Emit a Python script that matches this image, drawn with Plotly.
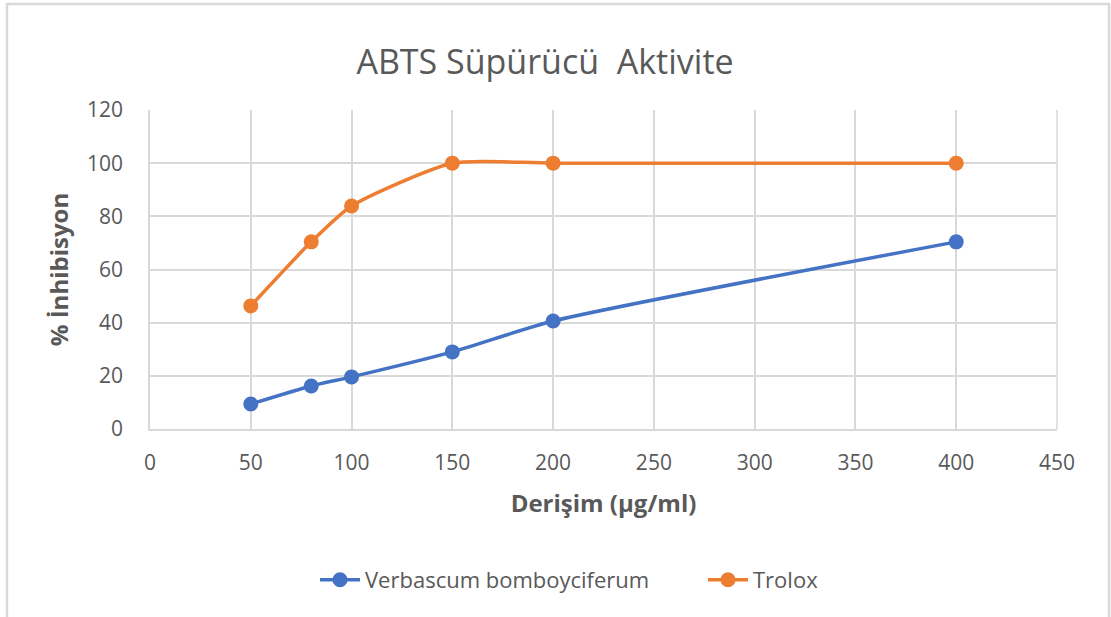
import plotly.graph_objects as go

conc = [50, 80, 100, 150, 200, 400]
verbascum = [9.4, 16.2, 19.6, 29.0, 40.6, 70.4]
trolox = [46.3, 70.4, 83.9, 100.0, 100.0, 100.0]
names = ["Verbascum bomboyciferum", "Trolox"]
x_ticks = [0, 50, 100, 150, 200, 250, 300, 350, 400, 450]
y_ticks = [0, 20, 40, 60, 80, 100, 120]

FONT = "Open Sans"
GRAY = "#595959"
GRID = "#d9d9d9"

fig = go.Figure()
fig.add_trace(go.Scatter(x=conc, y=verbascum, name=names[0], mode="lines+markers",
                         line=dict(color="#4472c4", width=3.5, shape="spline", smoothing=0.6),
                         marker=dict(size=15, color="#4472c4"), legend="legend"))
fig.add_trace(go.Scatter(x=conc, y=trolox, name=names[1], mode="lines+markers",
                         line=dict(color="#ed7d31", width=3.5, shape="spline", smoothing=0.6),
                         marker=dict(size=15, color="#ed7d31"), legend="legend2"))

leg_common = dict(orientation="h", xanchor="left", y=-(580 - 429) / 319, yanchor="middle",
                  font=dict(size=22, color=GRAY), itemwidth=40, bgcolor="rgba(0,0,0,0)")

fig.update_layout(
    width=1111, height=617,
    paper_bgcolor="white", plot_bgcolor="white",
    margin=dict(l=150, r=54, t=110, b=188, autoexpand=False),
    font=dict(family=FONT, color=GRAY, size=21),
    title=dict(text="ABTS Süpürücü  Aktivite", x=545/1111, xanchor="center", y=1 - 62/617, yanchor="middle",
               font=dict(family=FONT, size=34, color=GRAY)),
    xaxis=dict(range=[0, 450], tickvals=x_ticks, showgrid=True, gridcolor=GRID, gridwidth=1.5,
               showline=True, linecolor=GRID, linewidth=1.5, zeroline=False, ticks="",
               tickfont=dict(size=21, color=GRAY), ticklabelstandoff=14,
               title=dict(text="<b>Derişim (µg/ml)</b>", font=dict(size=24, color=GRAY), standoff=20)),
    yaxis=dict(range=[0, 120], tickvals=y_ticks, showgrid=True, gridcolor=GRID, gridwidth=1.5,
               showline=True, linecolor=GRID, linewidth=1.5, zeroline=False, ticks="",
               tickfont=dict(size=21, color=GRAY), ticklabelstandoff=21,
               title=dict(text="<b>% İnhibisyon</b>", font=dict(size=24, color=GRAY), standoff=12)),
    legend=dict(x=(315 - 150) / 907, **leg_common),
    legend2=dict(x=(703 - 150) / 907, **leg_common),
    showlegend=True,
)
fig.add_shape(type="line", xref="paper", yref="paper", x0=1, x1=1, y0=0, y1=1, line=dict(color=GRID, width=1.5))
fig.add_shape(type="rect", xref="paper", yref="paper",
              x0=(7 - 150) / 907, x1=(1109 - 150) / 907, y0=-240 / 319, y1=1 + 106 / 319,
              line=dict(color="#d9d9d9", width=2.5), layer="below")

fig.write_html("out.html", config={"displayModeBar": False},
               post_script="document.body.style.margin='0';")
